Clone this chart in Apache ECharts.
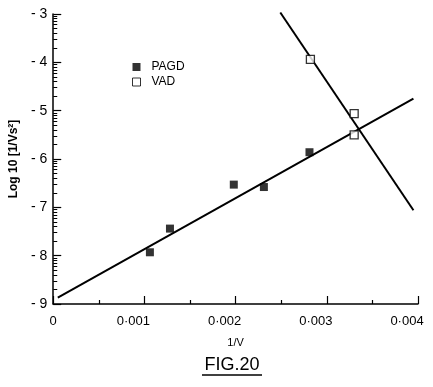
<!DOCTYPE html>
<html>
<head>
<meta charset="utf-8">
<script src="https://cdn.jsdelivr.net/npm/echarts@6/dist/echarts.min.js"></script>
<style>
  html, body { margin: 0; padding: 0; background: #fff; }
  #chart { width: 433px; height: 387px; }
</style>
</head>
<body>
<div id="chart"></div>
<script>
// values (x = 1/V, y = log10 [1/Vs^2])
var pagdX = [0.00106, 0.00128, 0.00198, 0.00231, 0.00281];
var pagdY = [-7.93, -7.44, -6.53, -6.58, -5.86];
var vadX = [0.00282, 0.00330, 0.00330];
var vadY = [-3.94, -5.06, -5.50];
// fitted straight lines, end points
var pagdFitX = [0.00005, 0.00395];
var pagdFitY = [-8.87, -4.75];
var vadFitX = [0.00249, 0.00395];
var vadFitY = [-2.97, -7.06];
var xTicks = [0, 0.001, 0.002, 0.003, 0.004];
var yTicks = [-9, -8, -7, -6, -5, -4, -3];

function pairs(xs, ys) {
    return xs.map(function (x, i) { return [x, ys[i]]; });
}

// log spaced minor ticks inside each decade
var logTicks = [];
for (var d = yTicks[0]; d < yTicks[yTicks.length - 1]; d++) {
    for (var k = 2; k <= 9; k++) logTicks.push(d + Math.log10(k));
}

var font = 'Liberation Sans';
var chart = echarts.init(document.getElementById('chart'));

var option = {
    backgroundColor: '#fff',
    animation: false,
    textStyle: { fontFamily: font, color: '#000' },
    grid: { left: 51, right: 15, top: 14, bottom: 83 },
    legend: {
        orient: 'vertical',
        left: 132,
        top: 61,
        padding: 0,
        itemWidth: 8,
        itemHeight: 8,
        itemGap: 3,
        data: [
            { name: 'PAGD', icon: 'rect' },
            { name: 'VAD', icon: 'rect', itemStyle: { borderWidth: 1 } }
        ],
        textStyle: { fontFamily: font, fontSize: 12, color: '#000', padding: [0, 0, 0, 6] }
    },
    xAxis: {
        type: 'value',
        min: xTicks[0],
        max: xTicks[xTicks.length - 1],
        interval: 0.001,
        name: '1/V',
        nameLocation: 'middle',
        nameGap: 33,
        nameTextStyle: { fontFamily: font, fontSize: 11, color: '#000' },
        axisLine: { lineStyle: { color: '#000', width: 1.5 } },
        axisTick: { inside: true, length: 8, lineStyle: { color: '#000', width: 1.2 } },
        minorTick: { show: true, splitNumber: 2, length: 4, lineStyle: { color: '#000', width: 1.2 } },
        splitLine: { show: false },
        axisLabel: {
            margin: 11,
            fontSize: 13,
            color: '#000',
            formatter: function (v) {
                if (v === 0) return '0';
                return '{s|' + v.toFixed(3).replace('.', '·') + '}';
            },
            rich: { s: { fontFamily: font, fontSize: 13, color: '#000', padding: [0, 22, 0, 0] } }
        }
    },
    yAxis: [{
        type: 'value',
        min: yTicks[0],
        max: yTicks[yTicks.length - 1],
        interval: 1,
        name: 'Log 10 [1/Vs²]',
        nameLocation: 'middle',
        nameGap: 30,
        nameRotate: 90,
        nameTextStyle: { fontFamily: font, fontSize: 12, fontWeight: 'bold', color: '#000' },
        axisLine: { show: true, lineStyle: { color: '#000', width: 1.5 } },
        axisTick: { show: true, inside: true, length: 8, lineStyle: { color: '#000', width: 1.2 } },
        splitLine: { show: false },
        axisLabel: {
            margin: 6,
            fontSize: 14,
            color: '#000',
            formatter: function (v) { return '- ' + Math.abs(v); }
        }
    }, {
        type: 'value',
        min: yTicks[0],
        max: yTicks[yTicks.length - 1],
        position: 'left',
        axisLine: { show: false },
        axisLabel: { show: false },
        splitLine: { show: false },
        axisTick: {
            show: true,
            inside: true,
            length: 4,
            customValues: logTicks,
            lineStyle: { color: '#000', width: 1 }
        }
    }],
    series: [
        {
            name: 'PAGD fit',
            type: 'line',
            showSymbol: false,
            silent: true,
            lineStyle: { color: '#000', width: 2 },
            data: pairs(pagdFitX, pagdFitY)
        },
        {
            name: 'VAD fit',
            type: 'line',
            showSymbol: false,
            silent: true,
            clip: false,
            lineStyle: { color: '#000', width: 2 },
            data: pairs(vadFitX, vadFitY)
        },
        {
            name: 'PAGD',
            type: 'scatter',
            symbol: 'rect',
            symbolSize: 8,
            itemStyle: { color: '#000' },
            data: pairs(pagdX, pagdY),
            z: 3
        },
        {
            name: 'VAD',
            type: 'scatter',
            symbol: 'rect',
            symbolSize: 8,
            itemStyle: { color: '#fff', borderColor: '#000', borderWidth: 1.3 },
            data: pairs(vadX, vadY),
            z: 3
        }
    ],
    graphic: [
        {
            type: 'text',
            x: 232,
            y: 365,
            style: {
                text: 'FIG.20',
                font: '18px "Liberation Sans"',
                fill: '#000',
                align: 'center',
                verticalAlign: 'middle'
            }
        },
        {
            type: 'line',
            shape: { x1: 202, y1: 375, x2: 262, y2: 375 },
            style: { stroke: '#000', lineWidth: 1.5 }
        }
    ]
};

chart.setOption(option);
</script>
</body>
</html>
